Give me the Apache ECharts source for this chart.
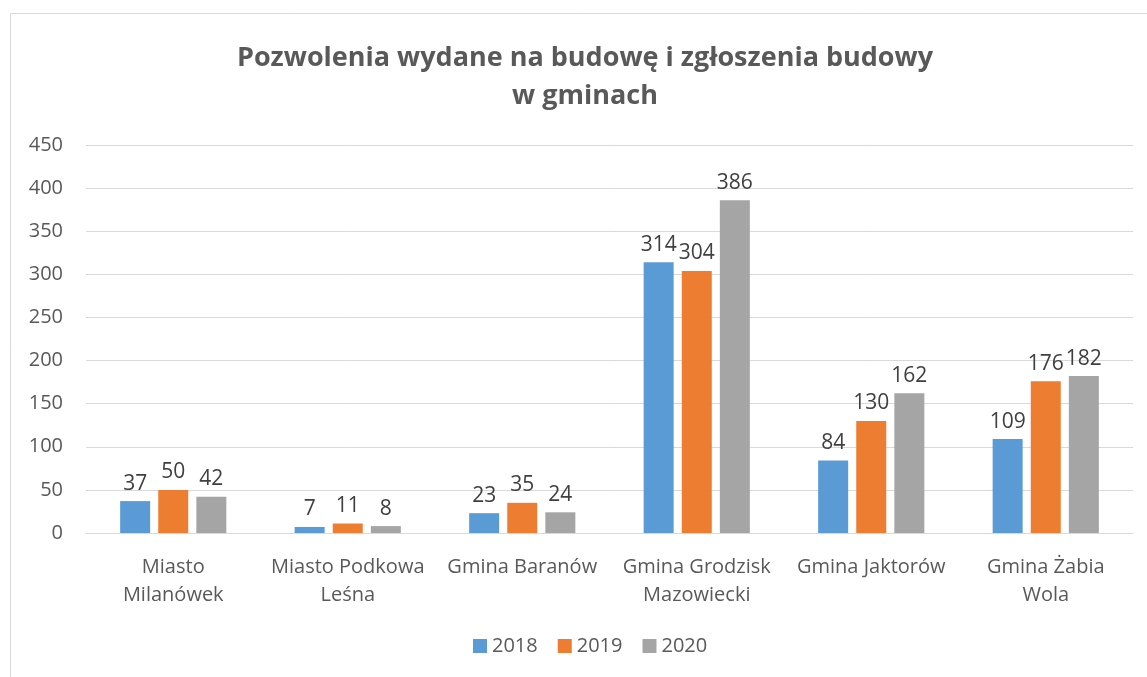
<!DOCTYPE html>
<html>
<head>
<meta charset="utf-8">
<script src="https://cdn.jsdelivr.net/npm/echarts@6/dist/echarts.min.js"></script>
<style>
html,body{margin:0;padding:0;background:#fff;}
#chart{width:1147px;height:677px;}
</style>
</head>
<body>
<div id="chart"></div>
<script>
const categories = ["Miasto\nMilanówek", "Miasto Podkowa\nLeśna", "Gmina Baranów", "Gmina Grodzisk\nMazowiecki", "Gmina Jaktorów", "Gmina Żabia\nWola"];
const seriesNames = ["2018", "2019", "2020"];
const values2018 = [37, 7, 23, 314, 84, 109];
const values2019 = [50, 11, 35, 304, 130, 176];
const values2020 = [42, 8, 24, 386, 162, 182];
const colors = ["#5B9BD5", "#ED7D31", "#A5A5A5"];
const titleText = "Pozwolenia wydane na budowę i zgłoszenia budowy\nw gminach";

const FONT = "'Open Sans', 'Liberation Sans', sans-serif";
const chart = echarts.init(document.getElementById('chart'), null, {renderer: 'canvas'});
const allValues = [values2018, values2019, values2020];
chart.setOption({
  animation: false,
  backgroundColor: '#fff',
  graphic: [{
    type: 'rect', shape: {x: 10.5, y: 13.5, width: 1160, height: 700},
    style: {fill: 'none', stroke: '#D9D9D9', lineWidth: 1}, silent: true, z: -1
  }],
  title: {
    text: titleText, left: 580, top: 34, textAlign: 'center',
    textStyle: {fontFamily: FONT, fontSize: 27, fontWeight: 'bold', color: '#595959', lineHeight: 38}
  },
  legend: {
    data: seriesNames, bottom: 16, left: 468, itemWidth: 14, itemHeight: 14, itemGap: 20,
    icon: 'rect',
    textStyle: {fontFamily: FONT, fontSize: 20, color: '#595959'}
  },
  grid: {left: 86, right: 14, top: 145, bottom: 144, containLabel: false},
  xAxis: {
    type: 'category', data: categories,
    axisLine: {lineStyle: {color: '#D9D9D9'}}, axisTick: {show: false},
    axisLabel: {fontFamily: FONT, fontSize: 20, color: '#595959', margin: 20, lineHeight: 28, interval: 0}
  },
  yAxis: {
    type: 'value', min: 0, max: 450, interval: 50,
    axisLine: {show: false}, axisTick: {show: false},
    splitLine: {lineStyle: {color: '#D9D9D9'}},
    axisLabel: {fontFamily: FONT, fontSize: 20, color: '#595959', margin: 23}
  },
  series: seriesNames.map((n, i) => ({
    name: n, type: 'bar', data: allValues[i], barWidth: 30, barGap: '27%',
    itemStyle: {color: colors[i]},
    label: {show: true, position: 'top', distance: 7, fontFamily: FONT, fontSize: 21, color: '#404040'}
  }))
});
</script>
</body>
</html>
